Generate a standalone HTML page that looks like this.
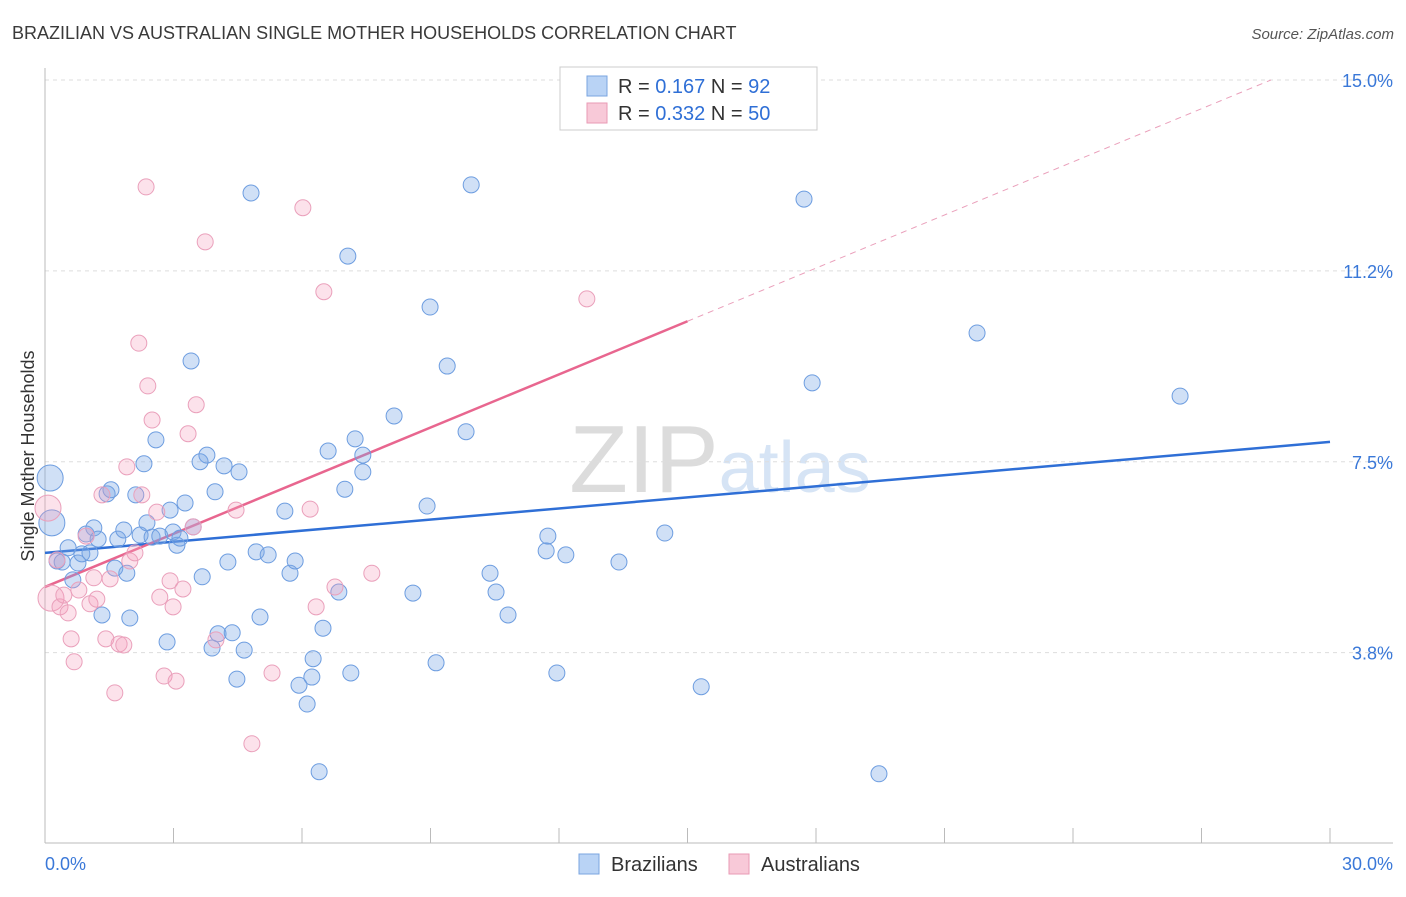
<!DOCTYPE html>
<html><head><meta charset="utf-8"><style>
body{margin:0;background:#fff;font-family:"Liberation Sans",sans-serif}
svg text{font-family:"Liberation Sans",sans-serif}
</style></head><body>
<svg id="chart" width="1406" height="892" xmlns="http://www.w3.org/2000/svg">
<text x="12" y="39" font-size="18" fill="#3a3a3a">BRAZILIAN VS AUSTRALIAN SINGLE MOTHER HOUSEHOLDS CORRELATION CHART</text>
<text x="1394" y="39" font-size="15" fill="#555" text-anchor="end" font-style="italic">Source: ZipAtlas.com</text>
<text x="720" y="492" font-size="96" text-anchor="middle" fill="#e6e6e6" font-family="Liberation Serif"><tspan fill="#dcdcdc">ZIP</tspan><tspan fill="#d6e4f5" font-family="Liberation Sans" font-size="72">atlas</tspan></text>
<text transform="translate(34,456) rotate(-90)" font-size="18" fill="#333" text-anchor="middle">Single Mother Households</text>
<g id="grid"></g><g id="axes"></g><g id="trends"></g><g id="points"></g>
<g>
<rect x="560" y="67" width="257" height="63" fill="#fff" stroke="#ccc"/>
<rect x="587" y="76" width="20" height="20" fill="#b9d3f5" stroke="#7aa5e0"/>
<text x="618" y="93" font-size="20" fill="#333">R = <tspan fill="#2f6fd6">0.167</tspan>   N = <tspan fill="#2f6fd6">92</tspan></text>
<rect x="587" y="103" width="20" height="20" fill="#f8c9d8" stroke="#e99ab5"/>
<text x="618" y="120" font-size="20" fill="#333">R = <tspan fill="#2f6fd6">0.332</tspan>   N = <tspan fill="#2f6fd6">50</tspan></text>
</g>
<g>
<rect x="579" y="854" width="20" height="20" fill="#b9d3f5" stroke="#7aa5e0"/>
<text x="611" y="871" font-size="20" fill="#333">Brazilians</text>
<rect x="729" y="854" width="20" height="20" fill="#f8c9d8" stroke="#e99ab5"/>
<text x="761" y="871" font-size="20" fill="#333">Australians</text>
</g>
</svg>
<script>
const yTicks=[15.0,11.2,7.5,3.8];
const yTickVals=[15.0,11.25,7.5,3.75];
const xTickLabels=["0.0%","30.0%"];
const blueX=[0.12,0.16,0.28,0.40,0.54,0.65,0.77,0.86,0.96,1.05,1.14,1.24,1.33,1.45,1.54,1.63,1.70,1.84,1.91,1.98,2.12,2.22,2.31,2.38,2.50,2.59,2.68,2.85,2.92,2.99,3.08,3.15,3.27,3.41,3.46,3.67,3.62,3.78,3.90,3.97,4.04,4.18,4.27,4.37,4.48,4.53,4.65,4.81,4.93,5.02,5.21,5.60,5.72,5.84,5.93,6.12,6.23,6.26,6.40,6.49,6.61,6.86,7.00,7.07,7.14,7.24,7.42,7.42,8.15,8.59,8.92,8.99,9.13,9.39,9.83,9.95,10.39,10.53,10.81,11.70,11.74,11.95,12.16,13.40,14.47,15.32,17.72,17.91,19.47,21.76,26.50];
const blueY=[7.18,6.30,5.55,5.53,5.81,5.18,5.51,5.69,6.08,5.71,6.20,5.98,4.49,6.87,6.95,5.41,5.98,6.16,5.31,4.43,6.85,6.06,7.46,6.30,6.02,7.93,6.04,3.96,6.55,6.12,5.86,6.00,6.69,9.48,6.22,5.24,7.50,7.63,3.84,6.91,4.12,7.42,5.53,4.14,3.23,7.30,3.80,12.78,5.73,4.45,5.67,6.53,5.31,5.55,3.11,2.74,3.27,3.63,1.41,4.23,7.71,4.94,6.96,11.54,3.35,7.95,7.63,7.30,8.40,4.92,6.63,10.54,3.55,9.38,8.09,12.94,5.31,4.94,4.49,5.75,6.04,3.35,5.67,5.53,6.10,3.08,12.66,9.05,1.37,10.03,8.79];
const pinkX=[0.07,0.14,0.28,0.35,0.44,0.54,0.61,0.68,0.79,0.96,1.05,1.14,1.21,1.33,1.42,1.52,1.63,1.73,1.84,1.91,1.98,2.10,2.19,2.26,2.36,2.40,2.50,2.61,2.68,2.78,2.92,2.99,3.06,3.22,3.34,3.46,3.53,3.74,3.99,4.46,4.83,5.30,6.02,6.19,6.33,6.51,6.77,7.63,12.65];
const pinkY=[6.59,4.82,5.57,4.65,4.88,4.53,4.02,3.57,4.98,6.04,4.71,5.22,4.80,6.85,4.02,5.20,2.96,3.92,3.90,7.40,5.55,5.71,9.83,6.85,12.90,8.99,8.32,6.51,4.84,3.29,5.16,4.65,3.19,5.00,8.05,6.22,8.62,11.82,4.00,6.55,1.96,3.35,12.49,6.57,4.65,10.84,5.04,5.31,10.70];
const blueTrend=[5.71,7.89];
const pinkTrend=[5.04,0.348];
const NS="http://www.w3.org/2000/svg";
const X0=45,X1=1330,Y15=80,PXPER=50.9;
function sx(v){return X0+v/30*(X1-X0);}
function sy(v){return Y15+(15-v)*PXPER;}
function mk(tag,attrs,parent){const e=document.createElementNS(NS,tag);for(const k in attrs)e.setAttribute(k,attrs[k]);parent.appendChild(e);return e;}
const grid=document.getElementById('grid'),axes=document.getElementById('axes'),tr=document.getElementById('trends'),pts=document.getElementById('points');
yTickVals.forEach((v,i)=>{
 const l=mk('line',{x1:45,x2:1393,y1:sy(v),y2:sy(v),stroke:'#ddd','stroke-dasharray':'4,4'},grid);
 
 
 const t=mk('text',{x:1393,y:sy(v)+7,'font-size':18,fill:'#3a78d8','text-anchor':'end'},axes);
 t.textContent=yTicks[i].toFixed(1)+'%';
 
 
});
const ya=mk('line',{x1:45,x2:45,y1:68,y2:843,stroke:'#bbb'},axes);


const xa=mk('line',{x1:45,x2:1393,y1:843,y2:843,stroke:'#bbb'},axes);


for(let i=0;i<=10;i++){
 const x=sx(i*3);
 const tk=mk('line',{x1:x,x2:x,y1:828,y2:843,stroke:'#bbb'},axes);
 
 
}
[[0,'start',45],[30,'end',1393]].forEach((d,i)=>{
 const t=mk('text',{x:d[2],y:870,'font-size':18,fill:'#3a78d8','text-anchor':d[1]},axes);
 t.textContent=xTickLabels[i];
 
 
});
function drawPts(xs,ys,fill,stroke,name){
 xs.forEach((x,i)=>{
  const big=(x<0.2&&i<2);
  const c=mk('circle',{cx:sx(x),cy:sy(ys[i]),r:big?13:8,fill:fill,stroke:stroke,'stroke-width':1},pts);
  
  
 });
}
drawPts(blueX,blueY,'rgba(120,165,230,0.35)','#6d9de0','brazilian-point');
drawPts(pinkX,pinkY,'rgba(245,160,190,0.3)','#eaa0bb','australian-point');
const bt=mk('line',{x1:sx(0),y1:sy(blueTrend[0]),x2:sx(30),y2:sy(blueTrend[1]),stroke:'#2f6fd6','stroke-width':2.5},tr);


const pEnd=15;
const pxEnd=(pEnd-pinkTrend[0])/pinkTrend[1];
const pt=mk('line',{x1:sx(0),y1:sy(pinkTrend[0]),x2:sx(15),y2:sy(pinkTrend[0]+15*pinkTrend[1]),stroke:'#e8668f','stroke-width':2.5},tr);


const pd=mk('line',{x1:sx(15),y1:sy(pinkTrend[0]+15*pinkTrend[1]),x2:sx(pxEnd),y2:sy(pEnd),stroke:'#eaa0bb','stroke-width':1,'stroke-dasharray':'6,5'},tr);


</script>
</body></html>
